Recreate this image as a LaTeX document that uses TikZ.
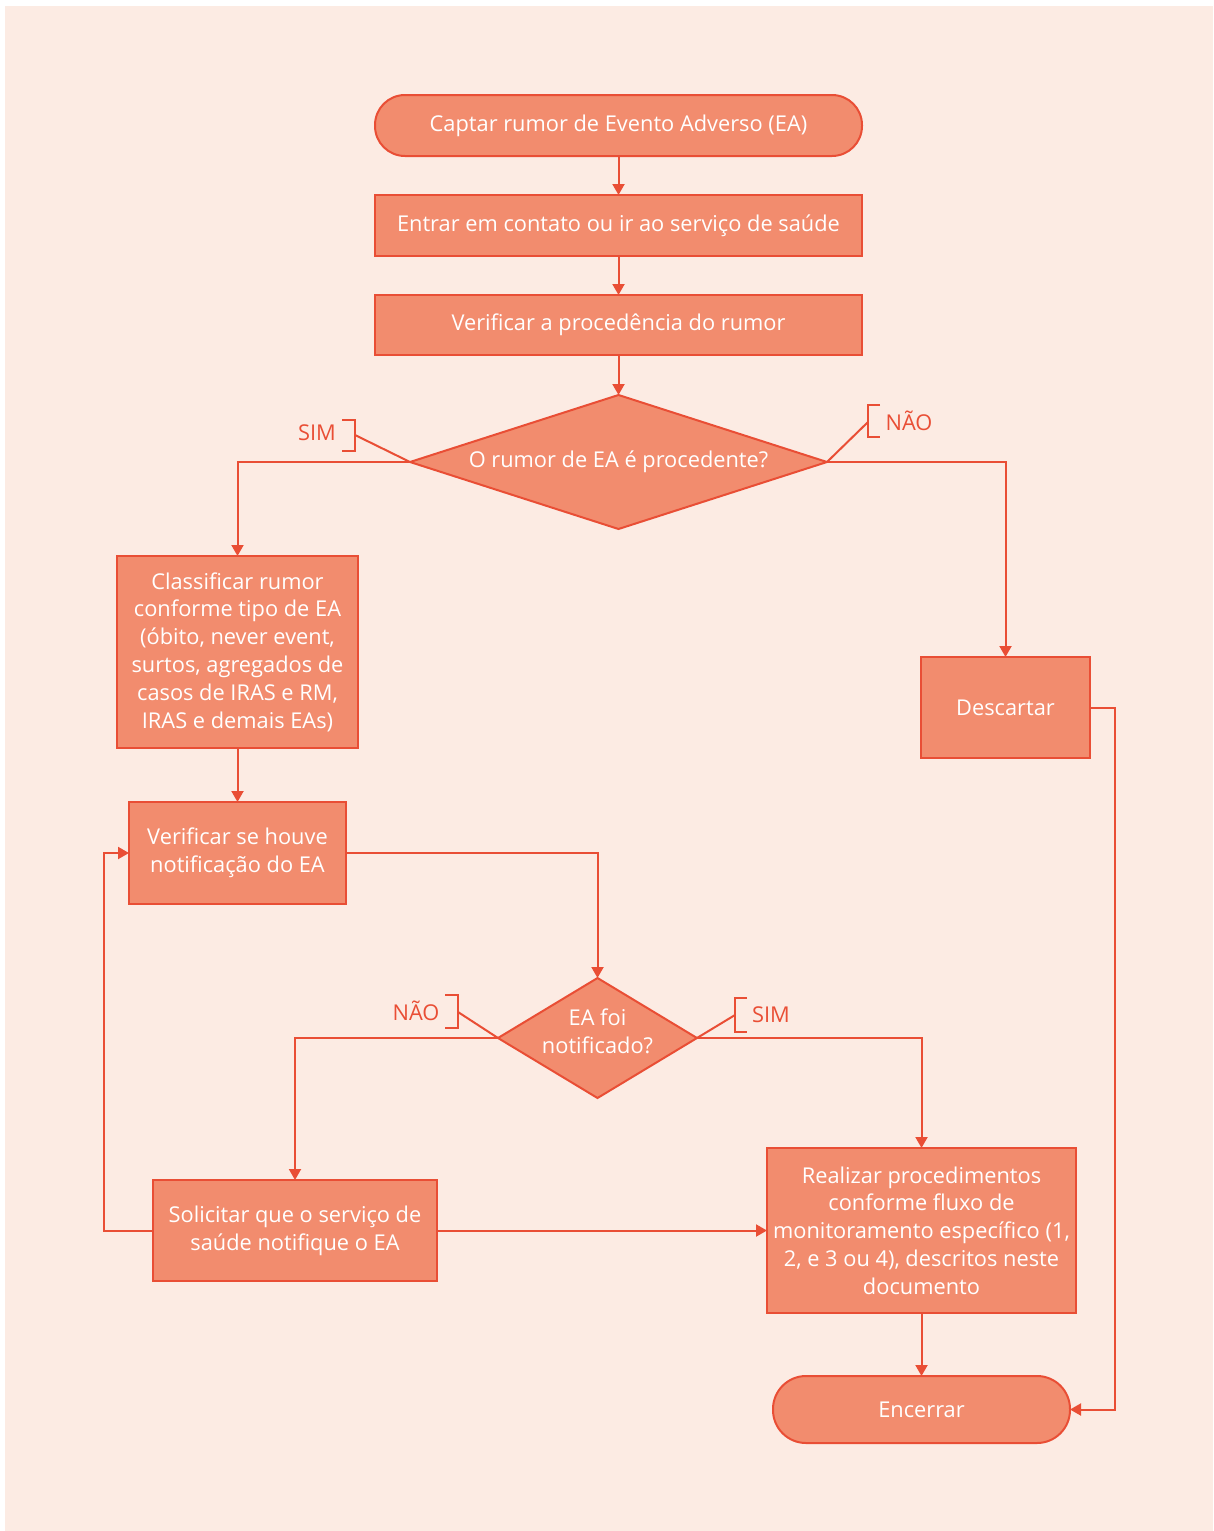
\documentclass[tikz,border=0pt]{standalone}
\usepackage{fontspec}
\setmainfont{Open Sans}
\usetikzlibrary{shapes.geometric,arrows.meta}
\definecolor{bgc}{HTML}{FCEBE3}
\definecolor{fillc}{HTML}{F28C6E}
\definecolor{linec}{HTML}{E94E35}
\begin{document}
\begin{tikzpicture}[x=1pt,y=-1pt,
  txtfont/.style={font=\fontsize{21.8}{27.8}\selectfont},
  box/.style={draw=linec, fill=fillc, line width=2pt, text=white, txtfont, align=center, inner sep=0pt, outer sep=0pt},
  term/.style={box},
  dia/.style={draw=linec, fill=fillc, line width=2pt, diamond, inner sep=0pt, outer sep=0pt},
  diatext/.style={text=white, txtfont, align=center, inner sep=0pt},
  conn/.style={draw=linec, line width=2pt, -{Triangle[length=11pt,width=12pt]}},
  plain/.style={draw=linec, line width=2pt},
  lbl/.style={text=linec, txtfont, inner sep=0pt}]
\useasboundingbox (0,0) rectangle (1213,1531);
\fill[white] (0,0) rectangle (1213,1531);
\fill[bgc] (5,6) rectangle (1213,1531);

% nodes
\node[term, rounded corners=30pt, minimum width=487pt, minimum height=61pt] (start) at (618.5,125.5) {Captar rumor de Evento Adverso (EA)};
\node[box, minimum width=487pt, minimum height=61pt] (contato) at (618.5,225.5) {Entrar em contato ou ir ao serviço de saúde};
\node[box, minimum width=487pt, minimum height=60pt] (verif) at (618.5,325) {Verificar a procedência do rumor};
\node[dia, minimum width=417pt, minimum height=134pt] (d1) at (618.5,462) {};
\node[diatext] (d1t) at (d1) {O rumor de EA é procedente?};
\node[box, minimum width=241pt, minimum height=192pt] (classif) at (237.5,652) {Classificar rumor\\conforme tipo de EA\\(óbito, never event,\\surtos, agregados de\\casos de IRAS e RM,\\IRAS e demais EAs)};
\node[box, minimum width=169pt, minimum height=101pt] (desc) at (1005.5,707.5) {Descartar};
\node[box, minimum width=217pt, minimum height=102pt] (houve) at (237.5,853) {Verificar se houve\\notificação do EA};
\node[dia, minimum width=199pt, minimum height=120pt] (d2) at (597.5,1038) {};
\node[diatext] (d2t) at (597.5,1031) {EA foi\\notificado?};
\node[box, minimum width=284pt, minimum height=101pt] (solic) at (295,1230.5) {Solicitar que o serviço de\\saúde notifique o EA};
\node[box, minimum width=309pt, minimum height=165pt] (real) at (921.5,1230.5) {Realizar procedimentos\\conforme fluxo de\\monitoramento específico (1,\\2, e 3 ou 4), descritos neste\\documento};
\node[term, rounded corners=33pt, minimum width=297pt, minimum height=67pt] (fim) at (921.5,1409.5) {Encerrar};

% labels
\node[lbl] (sim1) at (317,433) {SIM};
\node[lbl] (nao1) at (909,421) {NÃO};
\node[lbl] (nao2) at (416,1011) {NÃO};
\node[lbl] (sim2) at (771,1015) {SIM};
\draw[plain] (342,420) -- (355,420) -- (355,451) -- (342,451);
\coordinate (b1) at (355,435);
\draw[plain] (b1) -- (d1.west);
\draw[plain] (880,405) -- (868,405) -- (868,437) -- (880,437);
\coordinate (b2) at (868,422);
\draw[plain] (b2) -- (d1.east);
\draw[plain] (445,995) -- (458,995) -- (458,1028) -- (445,1028);
\coordinate (b3) at (458,1012);
\draw[plain] (b3) -- (d2.west);
\draw[plain] (747,998) -- (735,998) -- (735,1032) -- (747,1032);
\coordinate (b4) at (735,1015);
\draw[plain] (b4) -- (d2.east);

% connectors
\draw[conn] (start) -- (contato);
\draw[conn] (contato) -- (verif);
\draw[conn] (verif) -- (d1);
\draw[conn] (d1.west) -| (classif.north);
\draw[conn] (d1.east) -| (desc.north);
\draw[conn] (classif) -- (houve);
\draw[conn] (houve.east) -| (d2.north);
\draw[conn] (d2.west) -| (solic.north);
\draw[conn] (d2.east) -| (real.north);
\draw[conn] (solic) -- (real);
\draw[conn] (solic.west) -- ++(-49,0) |- (houve.west);
\draw[conn] (real) -- (fim);
\draw[conn] (desc.east) -- ++(25,0) |- (fim.east);
\end{tikzpicture}
\end{document}
